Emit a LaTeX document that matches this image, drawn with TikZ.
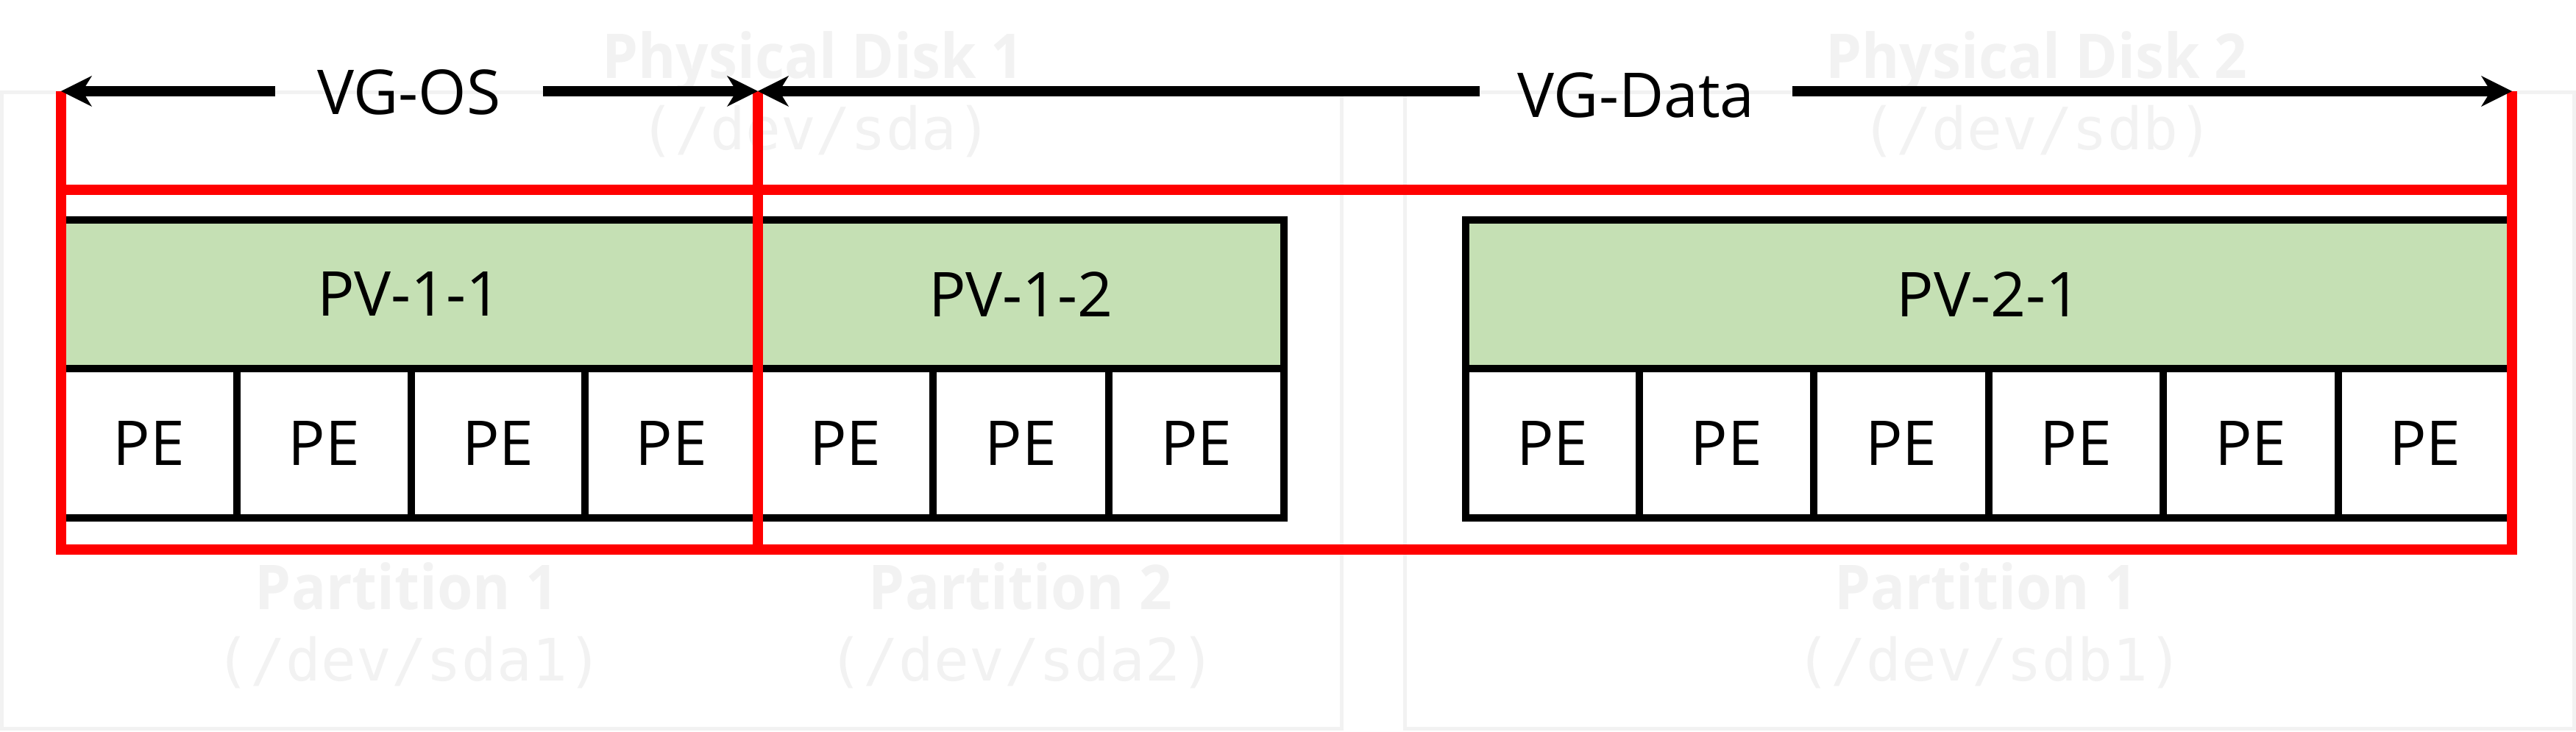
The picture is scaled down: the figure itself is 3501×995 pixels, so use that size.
\documentclass[tikz,border=0pt]{standalone}
\usepackage{fontspec}
\setmainfont{Open Sans}
\newfontfamily\faintsans[FakeStretch=0.93]{Open Sans}
\newfontfamily\devmono{DejaVu Sans Mono}
\usetikzlibrary{arrows.meta}
\definecolor{pvgreen}{RGB}{197,224,180}
\definecolor{faint}{RGB}{242,242,242}
\definecolor{vgred}{RGB}{255,0,0}
\newcommand{\bigtxt}{\fontsize{23.9pt}{28pt}\selectfont}
\begin{document}
\begin{tikzpicture}[x=0.01cm, y=-0.01cm,
  disk/.style={draw=faint, line width=1.42pt},
  faintlabel/.style={text=faint, inner sep=0pt, anchor=base, font=\bigtxt\faintsans\bfseries},
  devlabel/.style={text=faint, inner sep=0pt, anchor=base, font=\fontsize{22.6pt}{27pt}\selectfont\devmono},
  pvbox/.style={draw=black, fill=pvgreen, line width=2.85pt, minimum height=2.02cm, inner sep=0pt, font=\bigtxt},
  pebox/.style={draw=black, fill=white, line width=2.85pt, minimum height=2.03cm, inner sep=0pt, font=\bigtxt},
  vgline/.style={draw=vgred, line width=3.98pt},
  vglabel/.style={inner sep=0pt, anchor=base, font=\bigtxt},
  vgarrow/.style={draw=black, line width=3.98pt, -{Stealth[length=0.42cm, width=0.42cm, inset=0.13cm, line width=0pt]}}
]
\useasboundingbox (0,0) rectangle (3501,995);

% physical disks (faint)
\draw[disk] (2.5,126) rectangle (1823,990.5);
\draw[disk] (1909.5,126) rectangle (3498.5,990.5);
\node[faintlabel] (d1) at (1105,107) {Physical Disk 1};
\node[devlabel] (d1dev) at (1109,204) {(/dev/sda)};
\node[faintlabel] (d2) at (2768,107) {Physical Disk 2};
\node[devlabel] (d2dev) at (2769,204) {(/dev/sdb)};
\node[faintlabel] (p11) at (553,828) {Partition 1};
\node[devlabel] (p11dev) at (556,925) {(/dev/sda1)};
\node[faintlabel] (p12) at (1387,828) {Partition 2};
\node[devlabel] (p12dev) at (1389,925) {(/dev/sda2)};
\node[faintlabel] (p21) at (2699,828) {Partition 1};
\node[devlabel] (p21dev) at (2704,925) {(/dev/sdb1)};

% physical volumes
\node[pvbox, minimum width=9.47cm] (pv11) at (556.5,400) {PV-1-1};
\node[pvbox, minimum width=7.15cm] (pv12) at (1387.5,400) {PV-1-2};
\node[pvbox, minimum width=14.22cm] (pv21) at (2703,400) {PV-2-1};

% physical extents
\foreach \a/\b [count=\i] in {83/322,322/559,559/795,795/1030}
  \node[pebox, minimum width={(\b-\a)*0.01cm}] (peA\i) at ({(\a+\b)/2},602.5) {PE};
\foreach \a/\b [count=\i] in {1030/1268,1268/1507,1507/1745}
  \node[pebox, minimum width={(\b-\a)*0.01cm}] (peB\i) at ({(\a+\b)/2},602.5) {PE};
\foreach \a/\b [count=\i] in {1992/2228,2228/2465,2465/2703,2703/2940,2940/3178,3178/3414}
  \node[pebox, minimum width={(\b-\a)*0.01cm}] (peC\i) at ({(\a+\b)/2},602.5) {PE};

% volume groups
\coordinate (osL) at (83,124);
\coordinate (mid) at (1030,124);
\coordinate (dataR) at (3414,124);
\draw[vgline] (83,258) rectangle (1030,747);
\draw[vgline] (1030,258) rectangle (3414,747);
\draw[vgline] (osL) -- (83,258);
\draw[vgline] (mid) -- (1030,258);
\draw[vgline] (dataR) -- (3414,258);

\node[vglabel, minimum width=3.62cm] (vgos) at (556,156) {VG-OS};
\node[vglabel, minimum width=4.23cm] (vgdata) at (2223.5,160) {VG-Data};
\draw[vgarrow] (vgos.west |- osL) -- (osL);
\draw[vgarrow] (vgos.east |- mid) -- (mid);
\draw[vgarrow] (vgdata.west |- mid) -- (mid);
\draw[vgarrow] (vgdata.east |- dataR) -- (dataR);
\end{tikzpicture}
\end{document}
